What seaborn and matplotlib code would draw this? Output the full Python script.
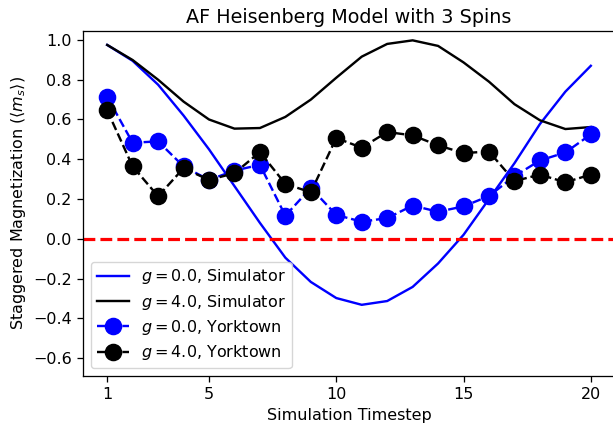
import matplotlib
matplotlib.use("Agg")
import matplotlib.pyplot as plt
import seaborn as sns
import numpy as np

timesteps = list(range(1, 21))
sim_g0 = [0.975, 0.895, 0.775, 0.62, 0.45, 0.265, 0.08, -0.095, -0.217, -0.298,
          -0.332, -0.313, -0.242, -0.124, 0.02, 0.2, 0.38, 0.577, 0.74, 0.87]
sim_g4 = [0.975, 0.899, 0.80, 0.69, 0.60, 0.554, 0.557, 0.613, 0.70, 0.81,
          0.916, 0.98, 0.998, 0.97, 0.887, 0.79, 0.677, 0.596, 0.552, 0.562]
york_g0 = [0.714, 0.483, 0.49, 0.364, 0.296, 0.343, 0.372, 0.116, 0.256, 0.12,
           0.086, 0.104, 0.167, 0.136, 0.163, 0.215, 0.315, 0.394, 0.434, 0.525]
york_g4 = [0.646, 0.364, 0.214, 0.355, 0.296, 0.33, 0.436, 0.276, 0.234, 0.507,
           0.458, 0.537, 0.52, 0.47, 0.431, 0.439, 0.29, 0.323, 0.284, 0.323]
xticks = [1, 5, 10, 15, 20]
yticks = [-0.6, -0.4, -0.2, 0.0, 0.2, 0.4, 0.6, 0.8, 1.0]

s = 1.15
plt.rcParams.update({
    "font.size": 10 * s,
    "axes.linewidth": 0.8 * s,
    "xtick.major.size": 3.5 * s,
    "ytick.major.size": 3.5 * s,
    "xtick.major.width": 0.8 * s,
    "ytick.major.width": 0.8 * s,
    "xtick.major.pad": 3.5 * s,
    "ytick.major.pad": 3.5 * s,
})

fig = plt.figure(figsize=(6.13, 4.26), dpi=100)
ax = fig.add_axes([83/613, 50/426, 532/613, 345/426])

lw = 1.5 * s
sns.lineplot(x=timesteps, y=sim_g0, color="blue", lw=lw, label=r"$g=0.0$, Simulator", ax=ax)
sns.lineplot(x=timesteps, y=sim_g4, color="black", lw=lw, label=r"$g=4.0$, Simulator", ax=ax)
sns.lineplot(x=timesteps, y=york_g0, color="blue", lw=lw, linestyle="--", marker="o",
             markersize=10 * s, markeredgecolor="blue", markeredgewidth=1 * s,
             label=r"$g=0.0$, Yorktown", ax=ax)
sns.lineplot(x=timesteps, y=york_g4, color="black", lw=lw, linestyle="--", marker="o",
             markersize=10 * s, markeredgecolor="black", markeredgewidth=1 * s,
             label=r"$g=4.0$, Yorktown", ax=ax)
ax.axhline(0, color="red", linestyle="--", lw=2 * s)

ax.set_xlim(0.05, 20.95)
ax.set_ylim(-0.69, 1.045)
ax.set_xticks(xticks)
ax.set_yticks(yticks)
ax.set_xlabel("Simulation Timestep", fontsize=10 * s)
ax.set_ylabel(r"Staggered Magnetization ($\langle m_s \rangle$)", fontsize=10 * s)
ax.set_title("AF Heisenberg Model with 3 Spins", fontsize=12 * s)
ax.tick_params(labelsize=10 * s)
ax.legend(loc="lower left", fontsize=10 * s, labelspacing=0.4, borderpad=0.35)

fig.savefig("out.png", dpi=100)
